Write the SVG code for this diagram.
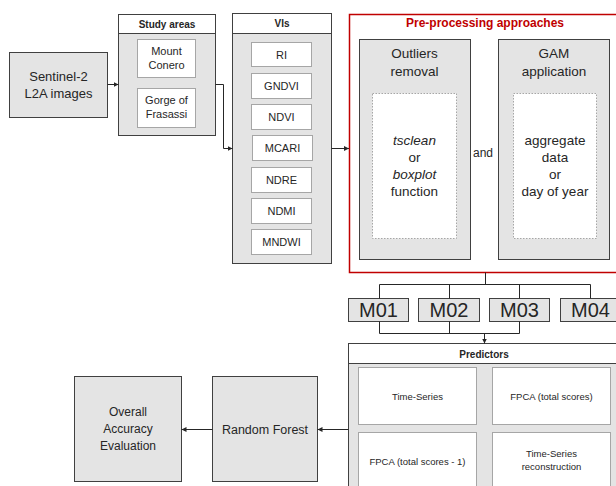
<svg xmlns="http://www.w3.org/2000/svg" width="616" height="486" viewBox="0 0 616 486">
<style>
  text { font-family: "Liberation Sans", Arial, sans-serif; fill: #262626; text-anchor: middle; }
  .box { fill: #e4e4e4; stroke: #404040; stroke-width: 1; }
  .hdr { fill: #ffffff; stroke: #404040; stroke-width: 1; }
  .inner { fill: #ffffff; stroke: #a6a6a6; stroke-width: 1; }
  .dot { fill: #ffffff; stroke: #a6a6a6; stroke-width: 1; stroke-dasharray: 1.5 1.5; }
  .b { font-weight: bold; font-size: 10px; }
  .vi { font-size: 11px; }
  .big { font-size: 13.5px; }
  .m { font-size: 20px; }
  .pr { font-size: 9.5px; }
  .line { fill: none; stroke: #262626; stroke-width: 1; }
  .arr { fill: none; stroke: #262626; stroke-width: 1; marker-end: url(#ah); }
</style>
<defs>
  <marker id="ah" viewBox="0 0 10 10" refX="10" refY="5" markerWidth="5" markerHeight="5" orient="auto" markerUnits="userSpaceOnUse">
    <path d="M0,0 L10,5 L0,10 Z" fill="#262626"/>
  </marker>
</defs>

<g id="sentinel">
  <rect class="box" x="9.5" y="52.5" width="98" height="65"/>
  <text x="58.5" y="81" font-size="13">Sentinel-2</text>
  <text x="58.5" y="98" font-size="13">L2A images</text>
</g>

<g id="study-areas">
  <rect class="box" x="118.5" y="14.5" width="97" height="121"/>
  <rect class="hdr" x="118.5" y="14.5" width="97" height="19"/>
  <text class="b" x="167" y="28">Study areas</text>
  <rect class="inner" x="137.5" y="39.5" width="58" height="38"/>
  <text class="vi" x="166.5" y="55">Mount</text>
  <text class="vi" x="166.5" y="69">Conero</text>
  <rect class="inner" x="137.5" y="88.5" width="58" height="39"/>
  <text class="vi" x="166.5" y="104">Gorge of</text>
  <text class="vi" x="166.5" y="118">Frasassi</text>
</g>

<g id="vis">
  <rect class="box" x="232.5" y="13.5" width="99" height="250"/>
  <rect class="hdr" x="232.5" y="13.5" width="99" height="20"/>
  <text class="b" x="282" y="27">VIs</text>
  <rect class="inner" x="251.5" y="42.5" width="60" height="24"/>
  <text class="vi" x="281.5" y="58.5">RI</text>
  <rect class="inner" x="251.5" y="73.5" width="60" height="25"/>
  <text class="vi" x="281.5" y="90">GNDVI</text>
  <rect class="inner" x="251.5" y="104.5" width="60" height="25"/>
  <text class="vi" x="281.5" y="121">NDVI</text>
  <rect class="inner" x="252.5" y="135.5" width="60" height="25"/>
  <text class="vi" x="282.5" y="152">MCARI</text>
  <rect class="inner" x="251.5" y="167.5" width="60" height="25"/>
  <text class="vi" x="281.5" y="184">NDRE</text>
  <rect class="inner" x="251.5" y="198.5" width="60" height="25"/>
  <text class="vi" x="281.5" y="215">NDMI</text>
  <rect class="inner" x="251.5" y="229.5" width="60" height="25"/>
  <text class="vi" x="281.5" y="246">MNDWI</text>
</g>

<g id="pre-processing">
  <rect x="349.5" y="14.5" width="300" height="258" fill="#ffffff" stroke="#c00000" stroke-width="1.5"/>
  <text x="485" y="27" font-size="12" font-weight="bold" style="fill:#c00000">Pre-processing approaches</text>
  <text x="483" y="157" font-size="12">and</text>
</g>

<g id="outliers-removal">
  <rect class="box" x="359.5" y="39.5" width="111" height="220"/>
  <text class="big" x="414.5" y="58">Outliers</text>
  <text class="big" x="414.5" y="76">removal</text>
  <rect class="dot" x="372.5" y="93.5" width="84" height="145"/>
  <text class="big" x="414.5" y="145" font-style="italic">tsclean</text>
  <text class="big" x="414.5" y="162">or</text>
  <text class="big" x="414.5" y="179" font-style="italic">boxplot</text>
  <text class="big" x="414.5" y="196">function</text>
</g>

<g id="gam-application">
  <rect class="box" x="498.5" y="39.5" width="111" height="220"/>
  <text class="big" x="554" y="58">GAM</text>
  <text class="big" x="554" y="76">application</text>
  <rect class="dot" x="513.5" y="93.5" width="83" height="145"/>
  <text class="big" x="555" y="145">aggregate</text>
  <text class="big" x="555" y="162">data</text>
  <text class="big" x="555" y="179">or</text>
  <text class="big" x="555" y="196">day of year</text>
</g>

<g id="m01">
  <rect class="box" x="348.5" y="298.5" width="60" height="23"/>
  <text class="m" x="378.5" y="317">M01</text>
</g>
<g id="m02">
  <rect class="box" x="418.5" y="298.5" width="61" height="23"/>
  <text class="m" x="449" y="317">M02</text>
</g>
<g id="m03">
  <rect class="box" x="489.5" y="298.5" width="60" height="23"/>
  <text class="m" x="519.5" y="317">M03</text>
</g>
<g id="m04">
  <rect class="box" x="560.5" y="298.5" width="60" height="23"/>
  <text class="m" x="590.5" y="317">M04</text>
</g>

<g id="predictors">
  <rect class="box" x="348.5" y="343.5" width="300" height="200"/>
  <rect class="hdr" x="348.5" y="343.5" width="300" height="20"/>
  <text class="b" x="484" y="357.5">Predictors</text>
  <rect class="inner" x="358.5" y="367.5" width="118" height="57"/>
  <text class="pr" x="417.5" y="400">Time-Series</text>
  <rect class="inner" x="492.5" y="367.5" width="118" height="57"/>
  <text class="pr" x="551.5" y="400">FPCA (total scores)</text>
  <rect class="inner" x="358.5" y="432.5" width="118" height="70"/>
  <text class="pr" x="417.5" y="465">FPCA (total scores - 1)</text>
  <rect class="inner" x="492.5" y="432.5" width="118" height="70"/>
  <text class="pr" x="551.5" y="457">Time-Series</text>
  <text class="pr" x="551.5" y="470">reconstruction</text>
</g>

<g id="random-forest">
  <rect class="box" x="212.5" y="376.5" width="105" height="105"/>
  <text x="265" y="434" font-size="12.5">Random Forest</text>
</g>

<g id="overall-accuracy">
  <rect class="box" x="74.5" y="376.5" width="107" height="105"/>
  <text x="128" y="416" font-size="12">Overall</text>
  <text x="128" y="433" font-size="12">Accuracy</text>
  <text x="128" y="450" font-size="12">Evaluation</text>
</g>

<g id="connectors">
  <path class="arr" d="M107.5,84.5 H118.5"/>
  <path class="arr" d="M215.5,84.5 H223.5 V148.5 H232.5"/>
  <path class="arr" d="M331.5,148.5 H349"/>
  <path class="line" d="M485.5,272.5 V284.5"/>
  <path class="line" d="M379.5,298.5 V284.5 H590.5 V298.5 M449.5,284.5 V298.5 M519.5,284.5 V298.5"/>
  <path class="line" d="M379.5,321.5 V333.5 H519.5 V321.5 M449.5,321.5 V333.5"/>
  <path class="arr" d="M484.5,333.5 V343.5"/>
  <path class="arr" d="M348.5,429.5 H317.5"/>
  <path class="arr" d="M212.5,429.5 H181.5"/>
</g>
</svg>
